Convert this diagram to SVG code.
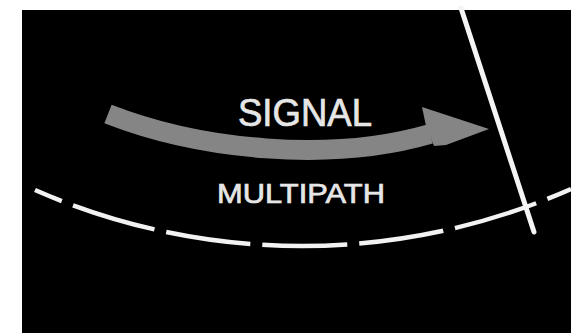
<svg xmlns="http://www.w3.org/2000/svg" width="571" height="333" viewBox="0 0 571 333">
  <style>
    .lbl { font-family: "Liberation Sans", Arial, sans-serif; fill: #e6e6e6; stroke: #e6e6e6; stroke-width: 0.7; text-anchor: middle; }
    .sig { fill: none; stroke: #858585; stroke-width: 20; stroke-linecap: butt; }
    .dash { fill: none; stroke: #f2f2f2; stroke-width: 4.5; stroke-dasharray: 85 12; stroke-dashoffset: 56; }
    .wall { stroke: #f4f4f4; stroke-width: 5; stroke-linecap: round; }
  </style>
  <rect x="0" y="0" width="571" height="333" fill="#ffffff"/>
  <rect id="background" x="22" y="10" width="549" height="323" fill="#000000"/>
  <g id="connectors">
    <g id="signal-arrow">
      <path class="sig" d="M 108 114 C 200 150, 330 163, 430 134"/>
      <polygon points="426,126 422,107 489,129 446,145 434,146" fill="#858585"/>
    </g>
    <path id="multipath-arc" class="dash" d="M 35 190 A 664.5 664.5 0 0 0 571 189"/>
  </g>
  <g id="boundary">
    <line class="wall" x1="461" y1="8" x2="534" y2="232"/>
  </g>
  <g id="label-signal">
    <text class="lbl" x="305" y="126" font-size="38" textLength="134" lengthAdjust="spacingAndGlyphs">SIGNAL</text>
  </g>
  <g id="label-multipath">
    <text class="lbl" x="301" y="203" font-size="28" textLength="168" lengthAdjust="spacingAndGlyphs">MULTIPATH</text>
  </g>
</svg>
